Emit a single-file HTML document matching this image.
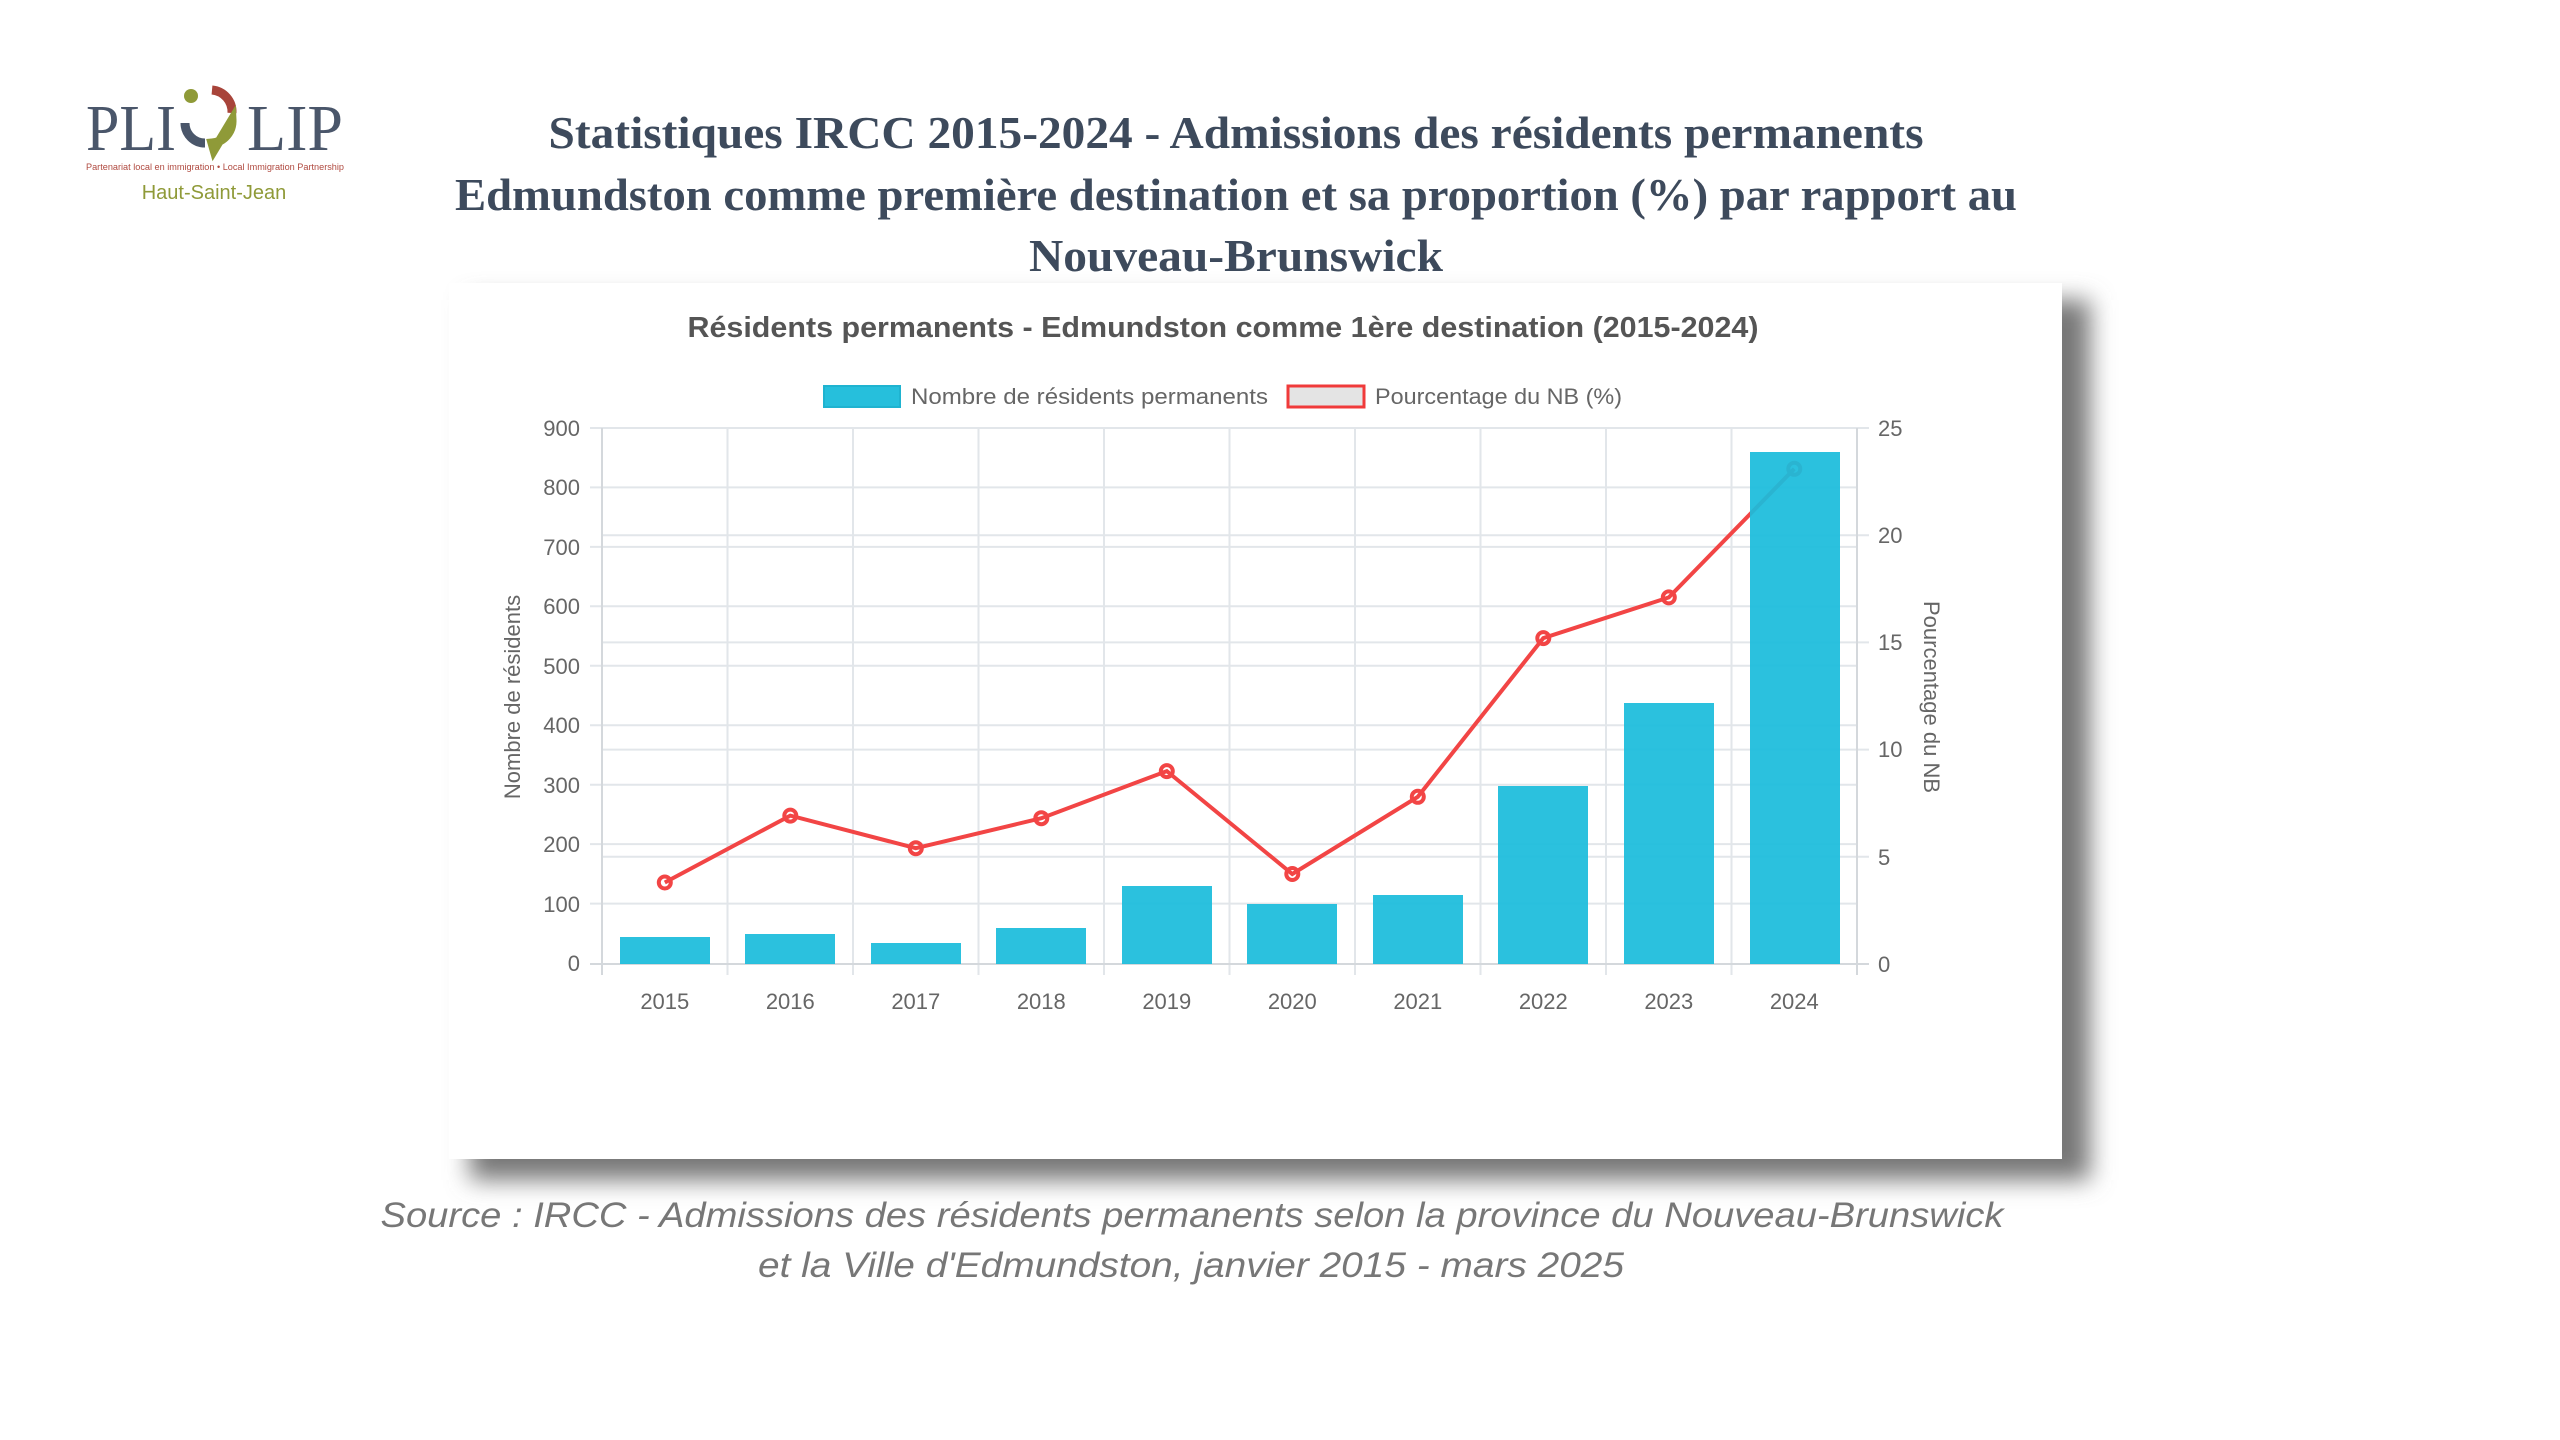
<!DOCTYPE html>
<html><head><meta charset="utf-8"><style>
html,body{margin:0;padding:0;background:#fff;}
body{width:2560px;height:1440px;overflow:hidden;position:relative;}
</style></head><body>
<svg width="2560" height="1440" viewBox="0 0 2560 1440" xmlns="http://www.w3.org/2000/svg" style="position:absolute;left:0;top:0">
<defs>
<filter id="sh" x="-10%" y="-10%" width="130%" height="130%"><feGaussianBlur stdDeviation="12"/></filter>
</defs>
<!-- logo -->
<text x="86" y="150" font-family="Liberation Serif,serif" font-size="66" fill="#4a566a" textLength="90" lengthAdjust="spacingAndGlyphs">PLI</text>
<text x="247" y="150" font-family="Liberation Serif,serif" font-size="66" fill="#4a566a" textLength="96" lengthAdjust="spacingAndGlyphs">LIP</text>
<circle cx="191" cy="96" r="7" fill="#8f9a38"/>
<path d="M185 123 A20 20 0 0 0 205 143" stroke="#4a566a" stroke-width="9" fill="none"/>
<path d="M212 90 A22 22 0 0 1 232 113" stroke="#a8443a" stroke-width="9" fill="none"/>
<path d="M232 120 A22 22 0 0 1 212 143 L214 150 Z" stroke="#8f9a38" stroke-width="9" fill="#8f9a38"/>
<text x="86" y="170" font-family="Liberation Sans,sans-serif" font-size="9" fill="#b04a40" textLength="258" lengthAdjust="spacingAndGlyphs">Partenariat local en immigration • Local Immigration Partnership</text>
<text x="214" y="199" text-anchor="middle" font-family="Liberation Sans,sans-serif" font-size="20" fill="#8f9a38">Haut-Saint-Jean</text>
<!-- titles -->
<g font-family="Liberation Serif,serif" font-weight="bold" font-size="46" fill="#3d4a5c" text-anchor="middle">
<text x="1236" y="148" textLength="1375" lengthAdjust="spacingAndGlyphs">Statistiques IRCC 2015-2024 - Admissions des résidents permanents</text>
<text x="1236" y="210" textLength="1562" lengthAdjust="spacingAndGlyphs">Edmundston comme première destination et sa proportion (%) par rapport au</text>
<text x="1236" y="271" textLength="414" lengthAdjust="spacingAndGlyphs">Nouveau-Brunswick</text>
</g>
<!-- card shadow -->
<rect x="470" y="300" width="1620" height="880" fill="#777" filter="url(#sh)"/>
<rect x="449" y="283" width="1613" height="876" fill="#fff"/>
<!-- chart title -->
<text x="1223" y="337" text-anchor="middle" font-family="Liberation Sans,sans-serif" font-weight="bold" font-size="29" fill="#555" textLength="1071" lengthAdjust="spacingAndGlyphs">Résidents permanents - Edmundston comme 1ère destination (2015-2024)</text>
<!-- legend -->
<rect x="824" y="386" width="76" height="21" fill="#26bfdc" stroke="#1fb3d0" stroke-width="2"/>
<text x="911" y="404" font-family="Liberation Sans,sans-serif" font-size="22" fill="#666" textLength="357" lengthAdjust="spacingAndGlyphs">Nombre de résidents permanents</text>
<rect x="1288" y="386" width="76" height="21" fill="#e4e4e4" stroke="#f03a3a" stroke-width="3"/>
<text x="1375" y="404" font-family="Liberation Sans,sans-serif" font-size="22" fill="#666" textLength="247" lengthAdjust="spacingAndGlyphs">Pourcentage du NB (%)</text>
<!-- grid -->
<g stroke="#e2e6ea" stroke-width="2">
<line x1="590" y1="428" x2="1869" y2="428"/>
<line x1="590" y1="487.4" x2="1857" y2="487.4"/>
<line x1="590" y1="546.9" x2="1857" y2="546.9"/>
<line x1="590" y1="606.3" x2="1857" y2="606.3"/>
<line x1="590" y1="665.8" x2="1857" y2="665.8"/>
<line x1="590" y1="725.2" x2="1857" y2="725.2"/>
<line x1="590" y1="784.7" x2="1857" y2="784.7"/>
<line x1="590" y1="844.1" x2="1857" y2="844.1"/>
<line x1="590" y1="903.6" x2="1857" y2="903.6"/>
<line x1="602" y1="535.2" x2="1869" y2="535.2"/>
<line x1="602" y1="642.4" x2="1869" y2="642.4"/>
<line x1="602" y1="749.6" x2="1869" y2="749.6"/>
<line x1="602" y1="856.8" x2="1869" y2="856.8"/>
<line x1="727.5" y1="428" x2="727.5" y2="975"/>
<line x1="853" y1="428" x2="853" y2="975"/>
<line x1="978.5" y1="428" x2="978.5" y2="975"/>
<line x1="1104" y1="428" x2="1104" y2="975"/>
<line x1="1229.5" y1="428" x2="1229.5" y2="975"/>
<line x1="1355" y1="428" x2="1355" y2="975"/>
<line x1="1480.5" y1="428" x2="1480.5" y2="975"/>
<line x1="1606" y1="428" x2="1606" y2="975"/>
<line x1="1731.5" y1="428" x2="1731.5" y2="975"/>
</g>
<g stroke="#d4d8dc" stroke-width="2">
<line x1="602" y1="428" x2="602" y2="975"/>
<line x1="1857" y1="428" x2="1857" y2="975"/>
<line x1="590" y1="964" x2="1869" y2="964"/>
</g>
<!-- line -->
<polyline fill="none" stroke="#f24545" stroke-width="4" points="664.8,882.5 790.3,815.6 915.8,848.2 1041.3,818.2 1166.8,771.1 1292.3,874 1417.8,796.8 1543.3,638.1 1668.8,597.4 1794.3,468.8"/>
<g fill="none" stroke="#f24545" stroke-width="4">
<circle cx="664.8" cy="882.5" r="6"/><circle cx="790.3" cy="815.6" r="6"/><circle cx="915.8" cy="848.2" r="6"/><circle cx="1041.3" cy="818.2" r="6"/><circle cx="1166.8" cy="771.1" r="6"/><circle cx="1292.3" cy="874" r="6"/><circle cx="1417.8" cy="796.8" r="6"/><circle cx="1543.3" cy="638.1" r="6"/><circle cx="1668.8" cy="597.4" r="6"/><circle cx="1794.3" cy="468.8" r="6"/>
</g>
<!-- bars -->
<g fill="#1bbcdb" fill-opacity="0.93">
<rect x="620" y="937" width="90" height="27"/>
<rect x="745" y="934" width="90" height="30"/>
<rect x="871" y="943" width="90" height="21"/>
<rect x="996" y="928" width="90" height="36"/>
<rect x="1122" y="886" width="90" height="78"/>
<rect x="1247" y="904" width="90" height="60"/>
<rect x="1373" y="895" width="90" height="69"/>
<rect x="1498" y="786" width="90" height="178"/>
<rect x="1624" y="703" width="90" height="261"/>
<rect x="1750" y="452" width="90" height="512"/>
</g>
<!-- tick labels -->
<g font-family="Liberation Sans,sans-serif" font-size="22" fill="#666" text-anchor="end">
<text x="580" y="436">900</text><text x="580" y="495">800</text><text x="580" y="555">700</text><text x="580" y="614">600</text><text x="580" y="674">500</text><text x="580" y="733">400</text><text x="580" y="793">300</text><text x="580" y="852">200</text><text x="580" y="912">100</text><text x="580" y="971">0</text>
</g>
<g font-family="Liberation Sans,sans-serif" font-size="22" fill="#666">
<text x="1878" y="436">25</text><text x="1878" y="543">20</text><text x="1878" y="650">15</text><text x="1878" y="757">10</text><text x="1878" y="865">5</text><text x="1878" y="972">0</text>
</g>
<g font-family="Liberation Sans,sans-serif" font-size="22" fill="#666" text-anchor="middle">
<text x="664.8" y="1009">2015</text><text x="790.3" y="1009">2016</text><text x="915.8" y="1009">2017</text><text x="1041.3" y="1009">2018</text><text x="1166.8" y="1009">2019</text><text x="1292.3" y="1009">2020</text><text x="1417.8" y="1009">2021</text><text x="1543.3" y="1009">2022</text><text x="1668.8" y="1009">2023</text><text x="1794.3" y="1009">2024</text>
</g>
<text transform="translate(520,697) rotate(-90)" text-anchor="middle" font-family="Liberation Sans,sans-serif" font-size="22" fill="#666">Nombre de résidents</text>
<text transform="translate(1924,697) rotate(90)" text-anchor="middle" font-family="Liberation Sans,sans-serif" font-size="22" fill="#666">Pourcentage du NB</text>
<!-- source -->
<g font-family="Liberation Sans,sans-serif" font-style="italic" font-size="35" fill="#777" text-anchor="middle">
<text x="1192" y="1227" textLength="1623" lengthAdjust="spacingAndGlyphs">Source : IRCC - Admissions des résidents permanents selon la province du Nouveau-Brunswick</text>
<text x="1191" y="1277" textLength="866" lengthAdjust="spacingAndGlyphs">et la Ville d'Edmundston, janvier 2015 - mars 2025</text>
</g>
</svg>
</body></html>
